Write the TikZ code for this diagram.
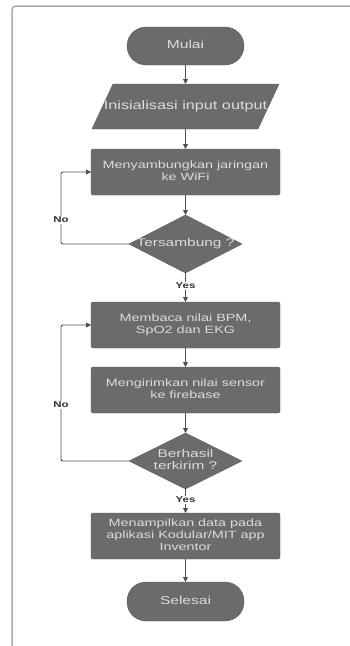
\documentclass[tikz,border=0pt]{standalone}
\usepackage{fontspec}
\setmainfont{Liberation Sans}
\usetikzlibrary{shapes.geometric,arrows.meta,backgrounds}
\definecolor{boxfill}{HTML}{6B6B6B}
\definecolor{boxedge}{HTML}{5E5E5E}
\definecolor{boxtext}{HTML}{DCDCDC}
\definecolor{linec}{HTML}{505050}
\definecolor{framec}{HTML}{AAAAAA}
\newcommand{\wtx}[2][1.35]{\makebox[0pt]{\scalebox{#1}[1]{\begin{tabular}{@{}c@{}}#2\end{tabular}}}}
\begin{document}
\begin{tikzpicture}[x=1pt,y=-1pt,
  every node/.style={inner sep=0pt, outer sep=0pt},
  proc/.style={rectangle, rounded corners=2pt, fill=boxfill, draw=boxedge, line width=0.4pt,
    minimum width=189pt, minimum height=46pt, text=boxtext, font=\fontsize{10.5}{11.7}\selectfont},
  term/.style={rectangle, rounded corners=19pt, fill=boxfill, draw=boxedge, line width=0.4pt,
    minimum width=117pt, minimum height=38pt, text=boxtext, font=\fontsize{11.5}{13}\selectfont},
  dec/.style={diamond, fill=boxfill, draw=boxedge, line width=0.4pt,
    minimum width=113pt, minimum height=58pt, text=boxtext, font=\fontsize{11.2}{12.7}\selectfont},
  io/.style={rectangle, minimum width=187pt, minimum height=45pt, text=boxtext,
    font=\fontsize{12.2}{13}\selectfont},
  conn/.style={draw=linec, line width=0.9pt, -{Triangle[length=5pt,width=5pt]}},
  lbl/.style={fill=white, font=\bfseries\fontsize{8.5}{9}\selectfont, text=black!80, inner sep=1pt}]
\useasboundingbox (0,0) rectangle (350,646);
\begin{scope}[on background layer]
\fill[white] (0,0) rectangle (350,646);
\end{scope}
\draw[framec, line width=1.5pt, rounded corners=4pt] (12,650) -- (12,6) -- (360,6);

\node[term] (start) at (185.5,46) {\wtx{Mulai}};
\node[io] (init) at (185.5,106.5) {\wtx[1.33]{Inisialisasi input output}};
\begin{scope}[on background layer]
\filldraw[fill=boxfill, draw=boxedge, line width=0.4pt]
  (init.south west) -- ([xshift=-21pt]init.south east) -- (init.north east)
  -- ([xshift=21pt]init.north west) -- cycle;
\end{scope}
\node[proc] (wifi) at (185.5,172) {\wtx[1.37]{Menyambungkan jaringan\\ke WiFi}};
\node[dec] (tsb) at (185.5,244) {\wtx[1.38]{Tersambung ?}};
\node[proc] (read) at (185.5,325) {\wtx[1.37]{Membaca nilai BPM,\\SpO2 dan EKG}};
\node[proc] (send) at (185.5,390) {\wtx[1.37]{Mengirimkan nilai sensor\\ke firebase}};
\node[dec, minimum height=56pt] (ok) at (185.5,461) {\wtx[1.38]{Berhasil\\terkirim ?}};
\node[proc] (show) at (185.5,536) {\wtx[1.37]{Menampilkan data pada\\aplikasi Kodular/MIT app\\Inventor}};
\node[term, minimum height=39pt] (stop) at (185.5,601.5) {\wtx{Selesai}};

\coordinate (c1) at (61,244);
\coordinate (c2) at (61,461);

\draw[conn] (start) -- (init);
\draw[conn] (init) -- (wifi);
\draw[conn] (wifi) -- (tsb);
\draw[conn] (tsb) -- (read);
\draw[conn, rounded corners=2pt] (tsb.west) -- (c1) |- (wifi.west);
\draw[conn] (read) -- (send);
\draw[conn] (send) -- (ok);
\draw[conn, rounded corners=2pt] (ok.west) -- (c2) |- (read.west);
\draw[conn] (ok) -- (show);
\draw[conn] (show) -- (stop);

\node[lbl] (no1) at (61,220) {\scalebox{1.35}[1]{No}};
\node[lbl] (yes1) at (185.5,286) {\scalebox{1.35}[1]{Yes}};
\node[lbl] (no2) at (61,405) {\scalebox{1.35}[1]{No}};
\node[lbl] (yes2) at (185.5,500) {\scalebox{1.35}[1]{Yes}};
\end{tikzpicture}
\end{document}
